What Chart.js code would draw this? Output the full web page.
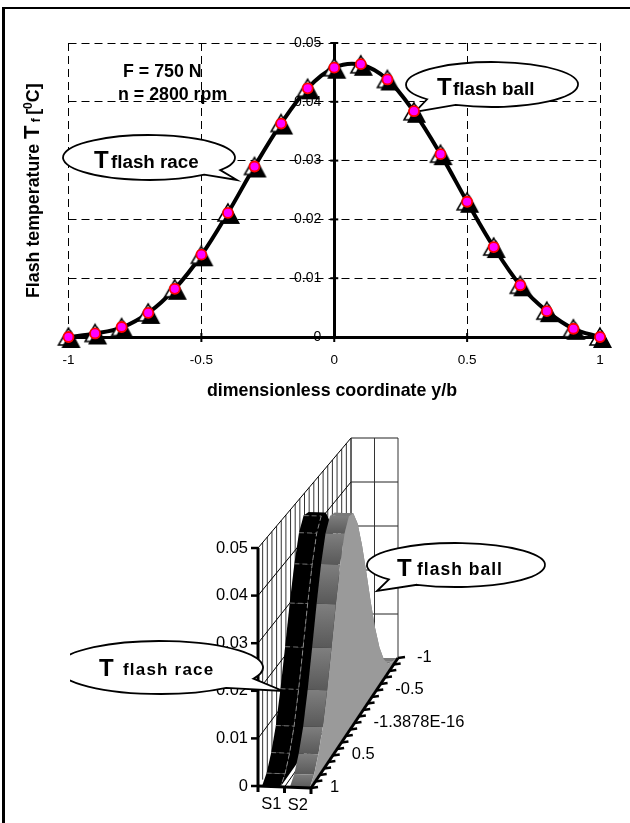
<!DOCTYPE html>
<html>
<head>
<meta charset="utf-8">
<script src="https://cdn.jsdelivr.net/npm/chart.js@4"></script>
<style>
  html, body { margin: 0; padding: 0; background: #fff; overflow: hidden; }
  #page { position: relative; width: 630px; height: 823px; }
  #frame { position: absolute; left: 2px; top: 7px; right: 0; bottom: 0; border-top: 2px solid #000; border-left: 3px solid #000; }
  canvas { position: absolute; left: 0; top: 0; }
</style>
</head>
<body>
<div id="page">
  <div id="frame"></div>
  <canvas id="profile" width="630" height="430"></canvas>
  <canvas id="surface" width="630" height="823"></canvas>
</div>
<script>
// values
const depth = [-1, -0.9, -0.8, -0.7, -0.6, -0.5, -0.4, -0.3, -0.2, -0.1, 0, 0.1, 0.2, 0.3, 0.4, 0.5, 0.6, 0.7, 0.8, 0.9, 1];
const tRace = [0, 0.0006, 0.0016, 0.0041, 0.0082, 0.0139, 0.0211, 0.029, 0.0363, 0.0423, 0.0458, 0.0463, 0.0438, 0.0383, 0.0311, 0.023, 0.0153, 0.0088, 0.0044, 0.0014, 0];
const tBall = [0, 0.0006, 0.0017, 0.0041, 0.0082, 0.014, 0.0211, 0.029, 0.0363, 0.0423, 0.0458, 0.0464, 0.0438, 0.0384, 0.0311, 0.023, 0.0153, 0.0088, 0.0044, 0.0014, 0];
const valueTicks = [0, 0.01, 0.02, 0.03, 0.04, 0.05];
const depthTicks = [-1, -0.5, 0, 0.5, 1];
const depthLabels = ['-1', '-0.5', '-1.3878E-16', '0.5', '1'];
const seriesNames = ['S1', 'S2'];

const FONT = '"Liberation Sans", Arial, sans-serif';
const rad = d => d * Math.PI / 180;

function drawRuns(ctx, runs, x, y) {
  ctx.textAlign = 'left';
  ctx.textBaseline = 'alphabetic';
  for (const r of runs) {
    ctx.font = 'bold ' + r.size + 'px ' + FONT;
    ctx.letterSpacing = (r.spacing || 0) + 'px';
    ctx.fillStyle = '#000';
    ctx.fillText(r.text, x, y + (r.dy || 0));
    x += ctx.measureText(r.text).width;
  }
  ctx.letterSpacing = '0px';
}

function drawCallout(ctx, c) {
  ctx.save();
  if (c.clipLeft) {
    ctx.beginPath();
    ctx.rect(c.clipLeft, 0, 630, 823);
    ctx.clip();
  }
  ctx.beginPath();
  ctx.ellipse(c.cx, c.cy, c.rx, c.ry, 0, rad(c.from), rad(c.to));
  ctx.lineTo(c.tip[0], c.tip[1]);
  ctx.closePath();
  ctx.fillStyle = '#fff';
  ctx.fill();
  ctx.lineWidth = 1.8;
  ctx.strokeStyle = '#000';
  ctx.stroke();
  ctx.restore();
  drawRuns(ctx, [{ text: 'T', size: c.bigSize }], c.tx, c.ty);
  drawRuns(ctx, [{ text: c.label, size: c.size, spacing: c.spacing }], c.lx, c.ly);
}

// white outlined triangle with a black one sitting over it
function triangleMarker() {
  const cv = document.createElement('canvas');
  cv.width = 34;
  cv.height = 34;
  const g = cv.getContext('2d');
  const tri = (ax, ay, bl, br, by) => {
    g.beginPath();
    g.moveTo(17 + ax, 17 + ay);
    g.lineTo(17 + bl, 17 + by);
    g.lineTo(17 + br, 17 + by);
    g.closePath();
  };
  tri(0, -9, -10, 9, 8);
  g.fillStyle = '#fff';
  g.fill();
  g.lineWidth = 1.5;
  g.strokeStyle = '#000';
  g.stroke();
  tri(2.5, -7, -7, 12, 11);
  g.fillStyle = '#000';
  g.fill();
  return cv;
}

const fmt = v => String(+Number(v).toFixed(2));
const toXY = (ys) => depth.map((d, i) => ({ x: d, y: ys[i] }));

new Chart(document.getElementById('profile'), {
  type: 'line',
  data: {
    datasets: [
      {
        label: 'T flash ball',
        data: toXY(tBall),
        showLine: false,
        pointStyle: 'circle',
        pointRadius: 5,
        pointBackgroundColor: '#ff00ff',
        pointBorderColor: '#ff0000',
        pointBorderWidth: 1.8,
        clip: false
      },
      {
        label: 'T flash race',
        data: toXY(tRace),
        borderColor: '#000',
        borderWidth: 4,
        tension: 0.35,
        pointStyle: triangleMarker(),
        pointRadius: 10,
        clip: false
      }
    ]
  },
  options: {
    responsive: false,
    animation: false,
    events: [],
    layout: { padding: { left: 68.5, right: 30, top: 43, bottom: 59 } },
    plugins: { legend: { display: false }, tooltip: { enabled: false } },
    scales: {
      x: {
        type: 'linear',
        min: -1,
        max: 1,
        afterFit: s => { s.height = 34; },
        ticks: { stepSize: 0.5, callback: fmt, color: '#000', font: { family: FONT, size: 13.5 }, padding: 11, maxRotation: 0 },
        grid: { color: '#000', lineWidth: 1, tickLength: 4 },
        border: { color: '#000', width: 3, dash: [8, 5] }
      },
      y: {
        position: { x: 0 },
        min: 0,
        max: 0.05,
        // labels sit off the crossing axis, drawn in the plugin below
        ticks: { stepSize: 0.01, display: false },
        grid: { color: '#000', lineWidth: 1, drawTicks: false },
        border: { color: '#000', width: 3, dash: [8, 5] }
      }
    }
  },
  plugins: [{
    id: 'profileText',
    beforeDatasetsDraw(chart) {
      const ctx = chart.ctx;
      const xs = chart.scales.x, ys = chart.scales.y;
      const axisX = xs.getPixelForValue(0), axisY = ys.getPixelForValue(0);
      ctx.save();
      ctx.strokeStyle = '#000';
      ctx.lineWidth = 2;
      ctx.fillStyle = '#000';
      ctx.font = '14px ' + FONT;
      ctx.textAlign = 'right';
      ctx.textBaseline = 'middle';
      valueTicks.forEach(v => {
        const y = ys.getPixelForValue(v);
        ctx.beginPath();
        ctx.moveTo(axisX - 4, y);
        ctx.lineTo(axisX + 4, y);
        ctx.stroke();
        ctx.fillText(fmt(v), axisX - 13, y);
      });
      xs.ticks.forEach(t => {
        const x = xs.getPixelForValue(t.value);
        ctx.beginPath();
        ctx.moveTo(x, axisY - 4);
        ctx.lineTo(x, axisY + 5);
        ctx.stroke();
      });
      ctx.restore();
      drawRuns(ctx, [{ text: 'F = 750 N', size: 17.8 }], 123, 77);
      drawRuns(ctx, [{ text: 'n = 2800 rpm', size: 17.8 }], 118, 100);
      drawRuns(ctx, [{ text: 'dimensionless coordinate y/b', size: 17.8 }], 207, 396);
      ctx.save();
      ctx.translate(39, 298);
      ctx.rotate(-Math.PI / 2);
      drawRuns(ctx, [
        { text: 'Flash temperature ', size: 17.8 },
        { text: 'T', size: 22 },
        { text: ' f ', size: 12, dy: 1 },
        { text: '[', size: 17.8 },
        { text: '0', size: 12, dy: -7 },
        { text: 'C]', size: 17.8 }
      ], 0, 0);
      ctx.restore();
      drawCallout(ctx, { cx: 149, cy: 157.5, rx: 86, ry: 22.5, from: 50, to: 394, tip: [237, 180], bigSize: 24, size: 18.8, tx: 94, ty: 168, lx: 111, ly: 168, label: 'flash race' });
      drawCallout(ctx, { cx: 492, cy: 84.5, rx: 86, ry: 22.5, from: 139, to: 475, tip: [415, 112], bigSize: 24, size: 18.8, tx: 437, ty: 95, lx: 453, ly: 95, label: 'flash ball' });
    }
  }]
});

// 3D view: s runs 0..2 across the two series, d from 1 (front) to -1 (back)
function project(s, d, v) {
  const t = (1 - d) / 2;
  const lx = 258 + 93 * t, ly = 786 - 128 * t;
  const rx = 311 + 87 * t, ry = 788 - 130 * t;
  const k = 4760 - 360 * t;
  return { x: lx + (rx - lx) * s / 2, y: ly + (ry - ly) * s / 2 - v * k };
}

const surfaceCtx = document.getElementById('surface').getContext('2d');
const sets = [];

function polyline(points, color, width, dash) {
  sets.push({ data: points, showLine: true, fill: false, borderColor: color, borderWidth: width, borderDash: dash || [], pointRadius: 0, clip: false, borderCapStyle: 'butt' });
}
function polygon(points, color) {
  sets.push({ data: points, showLine: true, fill: 'shape', backgroundColor: color, borderColor: 'rgba(0,0,0,0)', borderWidth: 0, pointRadius: 0, clip: false });
}

// walls
for (const d of depth) polyline([project(0, d, 0), project(0, d, 0.05)], '#333', 1);
for (const v of valueTicks) {
  if (v > 0) polyline([project(0, 1, v), project(0, -1, v)], '#000', 1);
  polyline([project(0, -1, v), project(2, -1, v)], v === 0 ? 'rgba(0,0,0,0)' : '#222', 1);
}
for (const s of [0, 1, 2]) polyline([project(s, -1, 0), project(s, -1, 0.05)], '#333', 1);
polyline([project(1, 1, 0), project(1, -1, 0)], '#000', 1);

function profile(s, ys) {
  const closed = depth.map((d, i) => project(s, d, ys[i]));
  closed.push(project(s, 1, 0), project(s, -1, 0));
  return closed;
}
function band(s0, s1, ys, i) {
  return [project(s0, depth[i], ys[i]), project(s1, depth[i], ys[i]), project(s1, depth[i + 1], ys[i + 1]), project(s0, depth[i + 1], ys[i + 1])];
}

// S1: black ribbon with faint dashed cell lines
const S1 = [0.15, 0.85];
polygon(profile(S1[1], tRace), '#000');
for (let i = 0; i < depth.length - 1; i++) polygon(band(S1[0], S1[1], tRace, i), '#000');
for (let i = 11; i < depth.length - 1; i++) polyline([project(S1[0], depth[i], tRace[i]), project(S1[1], depth[i], tRace[i])], '#6e6e6e', 1, [5, 3]);
polyline(depth.slice(11).map((d, i) => project(S1[1], d, tRace[i + 11])), '#8a8a8a', 1, [5, 3]);

// S2: grey ribbon, shaded cell by cell, light side wall in front
const S2 = [1.2, 1.95];
for (let i = 0; i < depth.length - 1; i++) {
  const top = project(S2[0], depth[i], tBall[i]).y;
  const bottom = project(S2[0], depth[i + 1], tBall[i + 1]).y;
  const g = surfaceCtx.createLinearGradient(0, Math.min(top, bottom) - 1, 0, Math.max(top, bottom) + 1);
  g.addColorStop(0, '#808080');
  g.addColorStop(1, '#585858');
  polygon(band(S2[0], S2[1], tBall, i), i < 11 ? '#7a7a7a' : g);
}
polygon(profile(S2[1], tBall), '#9a9a9a');

// axes
polyline([project(0, 1, 0), project(0, 1, 0.05)], '#000', 3);
polyline([project(0, 1, 0), project(2, 1, 0)], '#000', 3);
polyline([project(2, 1, 0), project(2, -1, 0)], '#000', 3);
for (const v of valueTicks) {
  const p = project(0, 1, v);
  polyline([p, { x: p.x - 7, y: p.y }], '#000', 2.5);
}
for (const s of [0, 1, 2]) {
  const p = project(s, 1, 0);
  polyline([p, { x: p.x, y: p.y + 6 }], '#000', 3);
}
for (const d of depth) {
  const p = project(2, d, 0);
  polyline([p, { x: p.x + 7, y: p.y - 1 }], '#000', 2.5);
}

new Chart(surfaceCtx, {
  type: 'scatter',
  data: { datasets: sets.slice().reverse() },
  options: {
    responsive: false,
    animation: false,
    events: [],
    layout: { padding: 0 },
    plugins: { legend: { display: false }, tooltip: { enabled: false } },
    scales: {
      x: { type: 'linear', display: false, min: 0, max: 630 },
      y: { type: 'linear', display: false, min: 0, max: 823, reverse: true }
    }
  },
  plugins: [{
    id: 'surfaceText',
    afterDatasetsDraw(chart) {
      const ctx = chart.ctx;
      const px = p => ({ x: chart.scales.x.getPixelForValue(p.x), y: chart.scales.y.getPixelForValue(p.y) });
      ctx.save();
      ctx.font = '16.5px ' + FONT;
      ctx.fillStyle = '#000';
      ctx.textBaseline = 'middle';
      ctx.textAlign = 'right';
      valueTicks.forEach(v => {
        const p = px(project(0, 1, v));
        ctx.fillText(fmt(v), p.x - 10, p.y);
      });
      ctx.textAlign = 'left';
      depthTicks.forEach((d, i) => {
        const p = px(project(2, d, 0));
        ctx.fillText(depthLabels[i], p.x + 19, p.y - 1);
      });
      ctx.textAlign = 'center';
      seriesNames.forEach((name, i) => {
        const p = px(project(i + 0.5, 1, 0));
        ctx.fillText(name, p.x, p.y + 18);
      });
      ctx.restore();
      drawCallout(ctx, { cx: 160, cy: 667.5, rx: 103, ry: 26.5, from: 50, to: 385, tip: [283, 691], clipLeft: 70, bigSize: 24, size: 17, spacing: 1.2, tx: 99, ty: 676, lx: 123, ly: 675, label: 'flash race' });
      drawCallout(ctx, { cx: 456, cy: 565, rx: 89, ry: 22, from: 139, to: 476, tip: [377, 591], bigSize: 24, size: 17.5, spacing: 1, tx: 397, ty: 576, lx: 417, ly: 575, label: 'flash ball' });
    }
  }]
});
</script>
</body>
</html>
